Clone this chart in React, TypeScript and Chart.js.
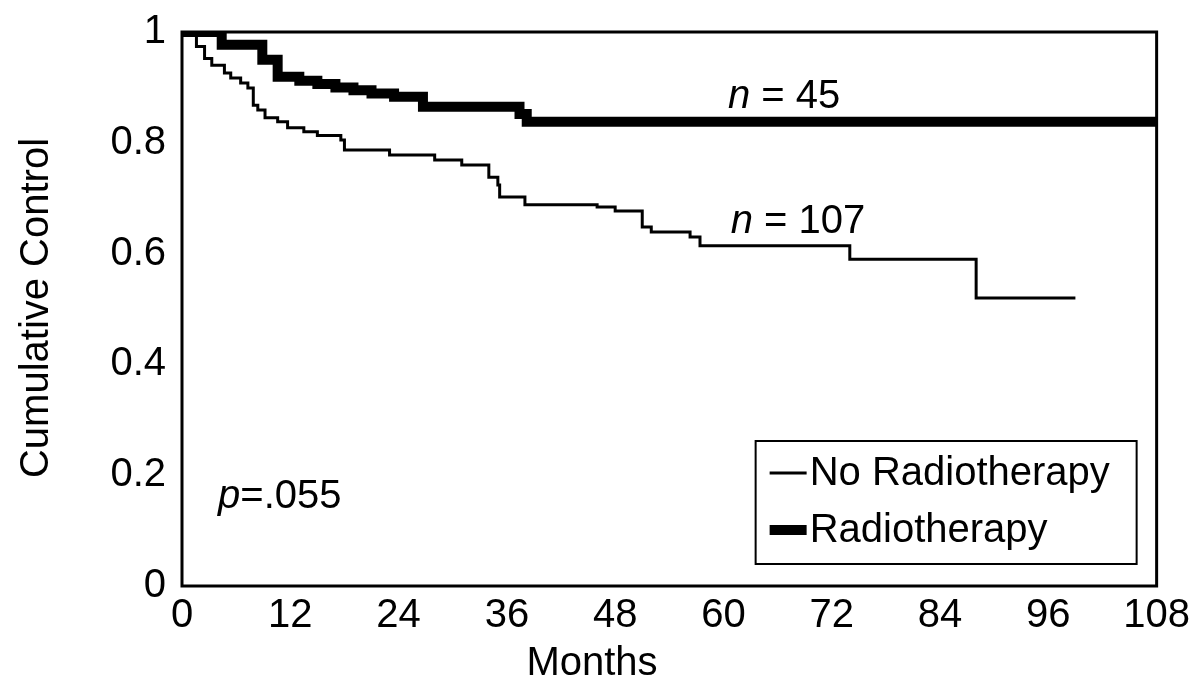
import React, { useEffect, useRef } from "react";
import { Chart, registerables } from "chart.js";

Chart.register(...registerables);

// ---- Data ----
const noRtMonths = [0, 1.6, 2.5, 3.3, 4.7, 5.4, 6.5, 7.3, 7.9, 8.4, 9.2, 10.6, 11.7, 13.5, 15, 17.6, 18, 23, 28, 31, 34, 35, 35.2, 38, 46, 48, 51, 52, 56.3, 57.4, 74, 88, 99];
const noRtControl = [1, 0.974, 0.952, 0.94, 0.926, 0.917, 0.908, 0.899, 0.868, 0.859, 0.845, 0.838, 0.827, 0.82, 0.813, 0.805, 0.787, 0.778, 0.769, 0.76, 0.738, 0.724, 0.702, 0.688, 0.684, 0.677, 0.648, 0.639, 0.63, 0.614, 0.59, 0.52, 0.52];

const rtMonths = [0, 4.4, 8.9, 10.6, 13, 15, 17, 19, 21, 23.5, 26.7, 37.4, 38.2, 108];
const rtControl = [1, 0.977, 0.95, 0.919, 0.912, 0.906, 0.9, 0.895, 0.889, 0.883, 0.865, 0.852, 0.838, 0.838];

const seriesLabels = ["No Radiotherapy", "Radiotherapy"];
const xTitle = "Months";
const yTitle = "Cumulative Control";

// annotation texts: [italic part, regular part, month, value]
const annotationTexts: [string, string, number, number][] = [
  ["n", " = 45", 60.5, 0.883],
  ["n", " = 107", 60.8, 0.657],
  ["p", "=.055", 4, 0.16],
];

const FONT = "'Liberation Sans', Arial, Helvetica, sans-serif";

const overlayPlugin = {
  id: "overlay",
  afterDraw(chart: any) {
    const ctx = chart.ctx as CanvasRenderingContext2D;
    const area = chart.chartArea;
    const xs = chart.scales.x;
    const ys = chart.scales.y;
    ctx.save();
    // plot frame
    ctx.strokeStyle = "#000";
    ctx.lineWidth = 3;
    ctx.strokeRect(area.left, area.top, area.right - area.left, area.bottom - area.top);

    // annotations
    ctx.fillStyle = "#000";
    ctx.textBaseline = "middle";
    ctx.textAlign = "left";
    for (const [it, rest, mx, vy] of annotationTexts) {
      const px = xs.getPixelForValue(mx);
      const py = ys.getPixelForValue(vy);
      ctx.font = `italic 40px ${FONT}`;
      ctx.fillText(it, px, py);
      const w = ctx.measureText(it).width;
      ctx.font = `40px ${FONT}`;
      ctx.fillText(rest, px + w, py);
    }

    // legend box
    const bx = area.right - 401;
    const by = area.bottom - 145;
    const bw = 381;
    const bh = 123;
    ctx.lineWidth = 2;
    ctx.strokeRect(bx, by, bw, bh);
    ctx.font = `40px ${FONT}`;
    chart.data.datasets.forEach((ds: any, i: number) => {
      const ly = by + 32 + i * 57;
      ctx.beginPath();
      ctx.lineWidth = ds.borderWidth;
      ctx.strokeStyle = ds.borderColor;
      ctx.moveTo(bx + 14, ly);
      ctx.lineTo(bx + 51, ly);
      ctx.stroke();
      ctx.fillStyle = "#000";
      ctx.fillText(ds.label, bx + 54, ly + 1);
    });

    // axis titles
    ctx.font = `40px ${FONT}`;
    ctx.textAlign = "center";
    ctx.textBaseline = "middle";
    ctx.fillText(xTitle, 592, 664);
    ctx.translate(37, 308);
    ctx.rotate(-Math.PI / 2);
    ctx.fillText(yTitle, 0, 0);
    ctx.restore();
  },
};

export default function App() {
  const ref = useRef<HTMLCanvasElement>(null);
  useEffect(() => {
    if (!ref.current) return;
    const chart = new Chart(ref.current, {
      type: "line",
      data: {
        datasets: [
          {
            label: seriesLabels[0],
            data: noRtMonths.map((m, i) => ({ x: m, y: noRtControl[i] })),
            borderColor: "#000",
            borderWidth: 3,
            stepped: "before",
            pointRadius: 0,
            fill: false,
          },
          {
            label: seriesLabels[1],
            data: rtMonths.map((m, i) => ({ x: m, y: rtControl[i] })),
            borderColor: "#000",
            borderWidth: 10,
            stepped: "before",
            pointRadius: 0,
            fill: false,
          },
        ],
      },
      options: {
        animation: false,
        responsive: false,
        layout: { padding: { top: 32, right: 39, left: 0, bottom: 0 } },
        plugins: { legend: { display: false }, tooltip: { enabled: false } },
        scales: {
          x: {
            type: "linear",
            min: 0,
            max: 108,
            grid: { display: false, drawTicks: false },
            border: { display: false },
            ticks: { stepSize: 12, color: "#000", font: { size: 40, family: FONT }, padding: 6, maxRotation: 0 },
            afterFit: (s: any) => { s.height = 103; },
          },
          y: {
            min: 0,
            max: 1,
            grid: { display: false, drawTicks: false },
            border: { display: false },
            ticks: {
              stepSize: 0.2,
              color: "#000",
              font: { size: 40, family: FONT },
              padding: 16,
              callback: (v: any) => String(parseFloat(Number(v).toFixed(1))),
            },
            afterFit: (s: any) => {
              s.width = 182;
              s.paddingTop = 0;
              s.paddingBottom = 0;
            },
          },
        },
      },
      plugins: [overlayPlugin],
    });
    return () => chart.destroy();
  }, []);
  return (
    <canvas
      ref={ref}
      width={1196}
      height={689}
      style={{ position: "fixed", left: 0, top: 0, width: 1196, height: 689, display: "block", background: "#fff" }}
    />
  );
}
